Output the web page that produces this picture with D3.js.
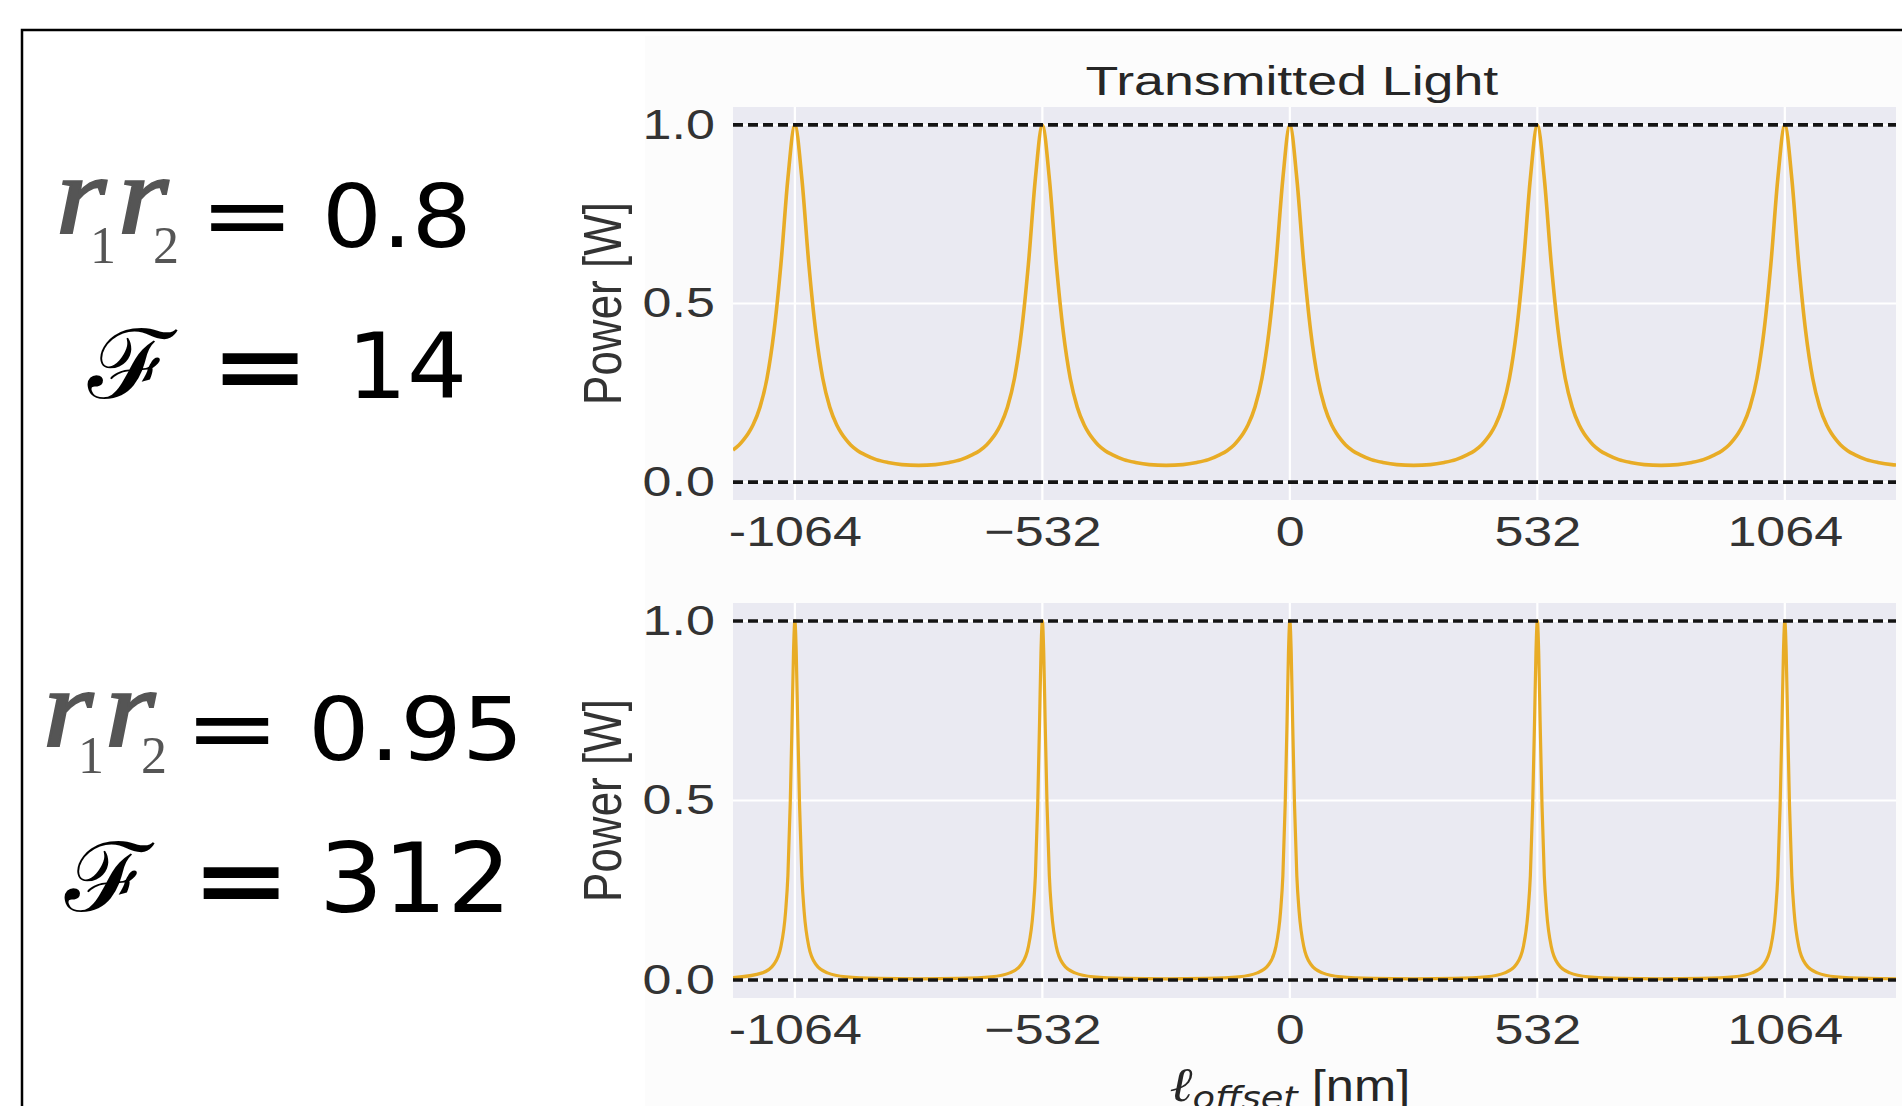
<!DOCTYPE html>
<html><head><meta charset="utf-8">
<script src="https://cdn.jsdelivr.net/npm/d3@7"></script>
<style>html,body{margin:0;padding:0;background:#fff;overflow:hidden}</style>
</head><body>
<svg id="chart" width="1902" height="1106"></svg>
<script>
// ---------- data ----------
const xTicks = [-1064, -532, 0, 532, 1064];
const xTickLabels = ["-1064", "\u2212532", "0", "532", "1064"];
const yTicks = [0, 0.5, 1.0];
const yTickLabels = ["0.0", "0.5", "1.0"];
const refLevels = [0, 1];
const xDomain = [-1197, 1303];
const yDomain = [-0.05, 1.05];

// r1r2 = 0.8 (top panel): [offset nm, power W]
const topCurve = [
 [-1197,.09],[-1184,.104],[-1174,.119],[-1164,.137],[-1154,.16],[-1139,.21],[-1124,.29],[-1109,.42],[-1094,.61],[-1079,.85],[-1064,1.0],
 [-1049,.85],[-1034,.61],[-1019,.42],[-1004,.29],[-989,.21],[-974,.16],[-964,.137],[-954,.119],[-944,.104],[-929,.088],[-914,.077],[-889,.063],[-864,.055],[-834,.049],[-798,.047],
 [-762,.049],[-732,.055],[-707,.063],[-682,.077],[-667,.088],[-652,.104],[-642,.119],[-632,.137],[-622,.16],[-607,.21],[-592,.29],[-577,.42],[-562,.61],[-547,.85],[-532,1.0],
 [-517,.85],[-502,.61],[-487,.42],[-472,.29],[-457,.21],[-442,.16],[-432,.137],[-422,.119],[-412,.104],[-397,.088],[-382,.077],[-357,.063],[-332,.055],[-302,.049],[-266,.047],
 [-230,.049],[-200,.055],[-175,.063],[-150,.077],[-135,.088],[-120,.104],[-110,.119],[-100,.137],[-90,.16],[-75,.21],[-60,.29],[-45,.42],[-30,.61],[-15,.85],[0,1.0],
 [15,.85],[30,.61],[45,.42],[60,.29],[75,.21],[90,.16],[100,.137],[110,.119],[120,.104],[135,.088],[150,.077],[175,.063],[200,.055],[230,.049],[266,.047],
 [302,.049],[332,.055],[357,.063],[382,.077],[397,.088],[412,.104],[422,.119],[432,.137],[442,.16],[457,.21],[472,.29],[487,.42],[502,.61],[517,.85],[532,1.0],
 [547,.85],[562,.61],[577,.42],[592,.29],[607,.21],[622,.16],[632,.137],[642,.119],[652,.104],[667,.088],[682,.077],[707,.063],[732,.055],[762,.049],[798,.047],
 [834,.049],[864,.055],[889,.063],[914,.077],[929,.088],[944,.104],[954,.119],[964,.137],[974,.16],[989,.21],[1004,.29],[1019,.42],[1034,.61],[1049,.85],[1064,1.0],
 [1079,.85],[1094,.61],[1109,.42],[1124,.29],[1139,.21],[1154,.16],[1164,.137],[1174,.119],[1184,.104],[1199,.088],[1214,.077],[1239,.063],[1264,.055],[1294,.049],[1303,.048]
];

// r1r2 = 0.95 (bottom panel): [offset nm, power W]
const bottomCurve = [
 [-1197,.0065],[-1134,.02],[-1109,.044],[-1094,.093],[-1084,.19],[-1079,.29],[-1074,.49],[-1070,.72],[-1067,.91],[-1064,1.0],
 [-1061,.91],[-1058,.72],[-1054,.49],[-1049,.29],[-1044,.19],[-1034,.093],[-1019,.044],[-994,.02],[-954,.009],[-884,.0045],[-798,.0032],
 [-712,.0045],[-642,.009],[-602,.02],[-577,.044],[-562,.093],[-552,.19],[-547,.29],[-542,.49],[-538,.72],[-535,.91],[-532,1.0],
 [-529,.91],[-526,.72],[-522,.49],[-517,.29],[-512,.19],[-502,.093],[-487,.044],[-462,.02],[-422,.009],[-352,.0045],[-266,.0032],
 [-180,.0045],[-110,.009],[-70,.02],[-45,.044],[-30,.093],[-20,.19],[-15,.29],[-10,.49],[-6,.72],[-3,.91],[0,1.0],
 [3,.91],[6,.72],[10,.49],[15,.29],[20,.19],[30,.093],[45,.044],[70,.02],[110,.009],[180,.0045],[266,.0032],
 [352,.0045],[422,.009],[462,.02],[487,.044],[502,.093],[512,.19],[517,.29],[522,.49],[526,.72],[529,.91],[532,1.0],
 [535,.91],[538,.72],[542,.49],[547,.29],[552,.19],[562,.093],[577,.044],[602,.02],[642,.009],[712,.0045],[798,.0032],
 [884,.0045],[954,.009],[994,.02],[1019,.044],[1034,.093],[1044,.19],[1049,.29],[1054,.49],[1058,.72],[1061,.91],[1064,1.0],
 [1067,.91],[1070,.72],[1074,.49],[1079,.29],[1084,.19],[1094,.093],[1109,.044],[1134,.02],[1174,.009],[1244,.0045],[1303,.0036]
];

const panels = [
  {curve: topCurve, top: 107, bottom: 500, title: "Transmitted Light", width: 3.6},
  {curve: bottomCurve, top: 603, bottom: 998, title: null, width: 3.2}
];

// ---------- drawing ----------
const svg = d3.select("#chart");
const W = 1902, H = 1106;
const SX = 1.24; // horizontal stretch of the original picture's text
const curveColor = "#E8AC26";
const bg = "#EAEAF2";
const sans = "Liberation Sans, Arial, sans-serif";

svg.append("rect").attr("width", W).attr("height", H).attr("fill", "#fff");
svg.append("rect").attr("x", 645).attr("y", 36).attr("width", W - 645).attr("height", H - 36).attr("fill", "#FCFCFC");

const x = d3.scaleLinear().domain(xDomain).range([733, 1896]);

panels.forEach((p, pi) => {
  const y = d3.scaleLinear().domain(yDomain).range([p.bottom, p.top]);
  const g = svg.append("g");
  g.append("rect").attr("x", x.range()[0]).attr("y", p.top)
    .attr("width", x.range()[1] - x.range()[0]).attr("height", p.bottom - p.top).attr("fill", bg);

  // grid
  g.selectAll(".vg").data(xTicks).join("line")
    .attr("x1", d => x(d)).attr("x2", d => x(d)).attr("y1", p.top).attr("y2", p.bottom)
    .attr("stroke", "#fff").attr("stroke-width", 2.2);
  g.selectAll(".hg").data(yTicks).join("line")
    .attr("x1", x.range()[0]).attr("x2", x.range()[1]).attr("y1", d => y(d)).attr("y2", d => y(d))
    .attr("stroke", "#fff").attr("stroke-width", 2.2);

  const clipId = "clip" + pi;
  svg.append("clipPath").attr("id", clipId).append("rect")
    .attr("x", x.range()[0]).attr("y", p.top).attr("width", x.range()[1] - x.range()[0]).attr("height", p.bottom - p.top);

  const line = d3.line().x(d => x(d[0])).y(d => y(d[1])).curve(d3.curveMonotoneX);
  g.append("path").datum(p.curve).attr("d", line).attr("fill", "none")
    .attr("stroke", curveColor).attr("stroke-width", p.width).attr("stroke-linejoin", "round")
    .attr("clip-path", `url(#${clipId})`);

  // reference dashed lines
  g.selectAll(".ref").data(refLevels).join("line")
    .attr("x1", x.range()[0]).attr("x2", x.range()[1]).attr("y1", d => y(d)).attr("y2", d => y(d))
    .attr("stroke", "#141414").attr("stroke-width", 3.6).attr("stroke-dasharray", "10,5");

  // axes
  const ax = g.append("g").attr("transform", `translate(0,${p.bottom})`)
    .call(d3.axisBottom(x).tickValues(xTicks).tickFormat((d, i) => xTickLabels[i]).tickSize(0).tickPadding(16));
  ax.select(".domain").remove();
  ax.selectAll("text").attr("font-family", sans).attr("font-size", 42)
    .attr("fill", "#333").attr("transform", `scale(${SX},1)`);

  const ay = g.append("g").attr("transform", `translate(${x.range()[0]},0)`)
    .call(d3.axisLeft(y).tickValues(yTicks).tickFormat((d, i) => yTickLabels[i]).tickSize(0).tickPadding(0));
  ay.select(".domain").remove();
  ay.selectAll("text").attr("x", 0).attr("font-family", sans).attr("font-size", 42)
    .attr("fill", "#333").attr("transform", `translate(-18,0) scale(${SX},1)`);

  // y label
  g.append("text").attr("transform", `translate(621,${(y(1) + y(0)) / 2}) scale(${SX},1) rotate(-90)`)
    .attr("text-anchor", "middle").attr("font-family", sans)
    .attr("font-size", 44).attr("fill", "#333").text("Power [W]");

  if (p.title) {
    g.append("text").attr("transform", `translate(${x(0) + 2},95) scale(1.31,1)`)
      .attr("text-anchor", "middle").attr("font-family", sans)
      .attr("font-size", 41).attr("fill", "#262626").text(p.title);
  }
});

// x label
const xl = svg.append("text").attr("transform", `translate(${x(0)},1101) scale(1.15,1)`)
  .attr("text-anchor", "middle").attr("font-family", "DejaVu Sans, sans-serif").attr("fill", "#262626");
xl.append("tspan").attr("font-size", 48).attr("font-style", "italic").attr("font-family", "DejaVu Serif, serif").text("\u2113");
xl.append("tspan").attr("font-size", 32).attr("font-style", "italic").attr("dy", 8).text("offset");
xl.append("tspan").attr("font-size", 44).attr("dy", -8).attr("font-family", sans).text(" [nm]");

// left annotations
const ann = [
  {rx: [56, 90, 118, 153], rBase: 233, sBase: 263, eqX: 207, numX: 322, numBase: 247, numSize: 88, numSX: 1.07,
   fX: 88, fBase: 398, eq2X: 218, fNumX: 347, fNumBase: 398, fNumSize: 90, rr: "0.8", F: "14"},
  {rx: [43, 78, 105, 141], rBase: 746, sBase: 773, eqX: 192, numX: 308, numBase: 760, numSize: 88, numSX: 1.1,
   fX: 65, fBase: 911, eq2X: 199, fNumX: 319, fNumBase: 912, fNumSize: 96, rr: "0.95", F: "312"}
];
ann.forEach(a => {
  const g = svg.append("g");
  const serif = "Liberation Serif, Times New Roman, serif";
  [[0, "r"], [2, "r"]].forEach(([k, t]) => {
    g.append("text").attr("transform", `translate(${a.rx[k]},${a.rBase}) scale(1.15,1)`).attr("font-family", serif)
      .attr("font-style", "italic").attr("stroke", "#555").attr("stroke-width", 2.2)
      .attr("font-size", 112).attr("fill", "#555").text(t);
  });
  g.append("text").attr("x", a.rx[1]).attr("y", a.sBase).attr("font-family", serif)
    .attr("font-size", 52).attr("fill", "#555").text("1");
  g.append("text").attr("x", a.rx[3]).attr("y", a.sBase).attr("font-family", serif)
    .attr("font-size", 52).attr("fill", "#555").text("2");
  g.append("text").attr("transform", `translate(${a.eqX - 8},${a.rBase + 14}) scale(1.25,1)`)
    .attr("font-family", "DejaVu Sans, sans-serif").attr("font-size", 92).attr("fill", "#000").text("=");
  g.append("text").attr("transform", `translate(${a.numX},${a.numBase}) scale(${a.numSX},1)`)
    .attr("font-family", "DejaVu Sans, sans-serif").attr("font-size", a.numSize).attr("fill", "#000").text(a.rr);
  g.append("text").attr("transform", `translate(${a.fX},${a.fBase}) scale(1.1,1)`).attr("font-family", "DejaVu Serif, serif")
    .attr("font-size", 96).attr("fill", "#000").text("\u2131");
  g.append("text").attr("transform", `translate(${a.eq2X - 8},${a.fNumBase}) scale(1.3,1)`)
    .attr("font-family", "DejaVu Sans, sans-serif").attr("font-weight", "bold").attr("font-size", 92).attr("fill", "#000").text("=");
  g.append("text").attr("transform", `translate(${a.fNumX},${a.fNumBase}) scale(1.05,1)`)
    .attr("font-family", "DejaVu Sans, sans-serif").attr("font-size", a.fNumSize).attr("fill", "#000").text(a.F);
});

// frame
svg.append("path").attr("d", `M22,${H} L22,30 L${W},30`).attr("fill", "none").attr("stroke", "#000").attr("stroke-width", 2.5);
</script>
</body></html>
